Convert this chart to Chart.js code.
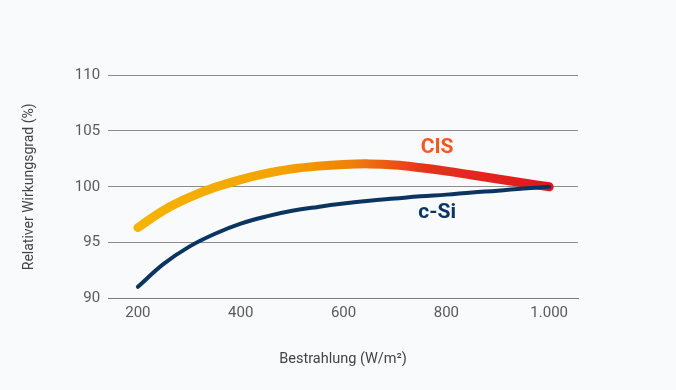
<!DOCTYPE html>
<html>
<head>
<meta charset="utf-8">
<script src="https://cdn.jsdelivr.net/npm/chart.js@4"></script>
<style>
  html, body { margin: 0; padding: 0; background: #f9fafc; }
  #wrap { width: 676px; height: 390px; }
</style>
</head>
<body>
<div id="wrap"><canvas id="grafico" width="676" height="390"></canvas></div>
<script>
// Daten
const bestrahlung = [200, 250, 300, 350, 400, 450, 500, 550, 600, 650, 700, 750, 800, 850, 900, 950, 1000];
const cisWerte    = [96.35, 97.9, 99.05, 99.95, 100.65, 101.2, 101.6, 101.85, 102.0, 102.05, 101.95, 101.7, 101.4, 101.05, 100.7, 100.35, 100.0];
const csiWerte    = [91.05, 93.1, 94.65, 95.8, 96.7, 97.35, 97.85, 98.2, 98.5, 98.75, 98.95, 99.15, 99.3, 99.5, 99.65, 99.85, 100.0];
const xTicks = [200, 400, 600, 800, 1000];
const yTicks = [90, 95, 100, 105, 110];

// Beschriftungen an den Kurven (Datenkoordinaten)
const kurvenLabels = [
    { text: "CIS", x: 782, y: 103.5, color: "#f05a22" },
    { text: "c-Si", x: 782, y: 97.7, color: "#0b3461" }
];

function formatDE(v) {
    return v >= 1000 ? Math.floor(v / 1000) + "." + String(v % 1000).padStart(3, "0") : String(v);
}

function cisVerlauf(ctx) {
    const chart = ctx.chart;
    if (!chart.chartArea) return "#f5b300";
    const xs = chart.scales.x;
    const x0 = xs.getPixelForValue(200);
    const x1 = xs.getPixelForValue(1000);
    const g = chart.ctx.createLinearGradient(x0, 0, x1, 0);
    g.addColorStop(0, "#f6b400");
    g.addColorStop(0.35, "#f3a300");
    g.addColorStop(0.52, "#ee800a");
    g.addColorStop(0.7, "#e5321c");
    g.addColorStop(1, "#e2161f");
    return g;
}

const labelPlugin = {
    id: "kurvenLabels",
    afterDatasetsDraw(chart) {
        const c = chart.ctx;
        c.save();
        c.font = "bold 21px Roboto";
        c.textAlign = "center";
        c.textBaseline = "middle";
        kurvenLabels.forEach(l => {
            c.fillStyle = l.color;
            c.fillText(l.text, chart.scales.x.getPixelForValue(l.x), chart.scales.y.getPixelForValue(l.y));
        });
        c.restore();
    }
};

new Chart(document.getElementById("grafico"), {
    type: "line",
    data: {
        datasets: [
            {
                label: "c-Si",
                data: bestrahlung.map((x, i) => ({ x, y: csiWerte[i] })),
                borderColor: "#0a3561",
                borderWidth: 4,
                borderCapStyle: "round",
                tension: 0.4,
                pointRadius: 0
            },
            {
                label: "CIS",
                data: bestrahlung.map((x, i) => ({ x, y: cisWerte[i] })),
                borderColor: cisVerlauf,
                borderWidth: 9,
                borderCapStyle: "round",
                tension: 0.4,
                pointRadius: 0
            }
        ]
    },
    options: {
        responsive: false,
        animation: false,
        layout: { padding: { left: 17, right: 98, top: 75, bottom: 18 } },
        plugins: {
            legend: { display: false },
            tooltip: { enabled: false }
        },
        scales: {
            x: {
                type: "linear",
                min: 142,
                max: 1056,
                afterBuildTicks: s => { s.ticks = xTicks.map(v => ({ value: v })); },
                ticks: {
                    color: "#5a5a5a",
                    font: { family: "Roboto", size: 15 },
                    padding: 6,
                    callback: v => formatDE(v)
                },
                grid: { display: false, drawTicks: false },
                border: { display: true, color: "#7a7a7a", width: 1 },
                title: {
                    display: true,
                    text: "Bestrahlung (W/m²)",
                    color: "#444",
                    font: { family: "Roboto", size: 14.5 },
                    padding: { top: 22 }
                }
            },
            y: {
                min: 90,
                max: 110,
                afterBuildTicks: s => { s.ticks = yTicks.map(v => ({ value: v })); },
                ticks: {
                    color: "#5a5a5a",
                    font: { family: "Roboto", size: 15 },
                    padding: 8
                },
                grid: { color: "#8c8c8c", lineWidth: 1, drawTicks: false },
                border: { display: false },
                title: {
                    display: true,
                    text: "Relativer Wirkungsgrad (%)",
                    color: "#444",
                    font: { family: "Roboto", size: 14 },
                    padding: { bottom: 29 }
                }
            }
        }
    },
    plugins: [labelPlugin]
});
</script>
</body>
</html>
